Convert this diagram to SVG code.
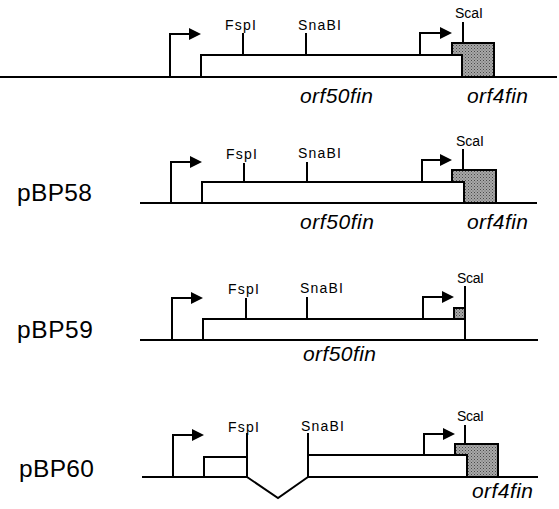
<svg xmlns="http://www.w3.org/2000/svg" width="559" height="509" viewBox="0 0 559 509">
  <style>
    .ln { stroke: #000; stroke-width: 2; fill: none; }
    .box { stroke: #000; stroke-width: 2; fill: #fff; }
    .gray { stroke: #000; stroke-width: 2; fill: url(#stipple); }
    .site { font-family: "Liberation Sans", Arial, sans-serif; font-size: 14px; fill: #000; }
    .gene { font-family: "Liberation Sans", Arial, sans-serif; font-size: 21px; font-style: italic; fill: #000; }
    .name { font-family: "Liberation Sans", Arial, sans-serif; font-size: 24.5px; fill: #000; }
  </style>
  <defs>
    <pattern id="stipple" width="3" height="3" patternUnits="userSpaceOnUse">
      <rect width="3" height="3" fill="#a8a8a8"/>
      <rect x="0" y="0" width="1" height="1" fill="#4a4a4a"/>
      <rect x="1.5" y="1.5" width="1" height="1" fill="#606060"/>
    </pattern>
    <polygon id="tip" points="-12,-6 0,0 -12,6" fill="#000"/>
  </defs>

  <!-- wild-type region -->
  <g id="wildtype">
    <line class="ln" x1="0" y1="77" x2="557" y2="77"/>
    <path class="ln" d="M170,77 V34 H190"/>
    <use href="#tip" x="201" y="34"/>
    <rect class="gray" x="452" y="43" width="42" height="34"/>
    <rect class="box" x="201" y="55" width="261" height="22"/>
    <path class="ln" d="M420,55 V33 H442"/>
    <use href="#tip" x="452" y="33"/>
    <line class="ln" x1="243" y1="55" x2="243" y2="33"/>
    <line class="ln" x1="306" y1="55" x2="306" y2="33"/>
    <line class="ln" x1="463" y1="43" x2="463" y2="22"/>
    <text class="site" x="225" y="30" textLength="31" lengthAdjust="spacing">FspI</text>
    <text class="site" x="298" y="30" textLength="43" lengthAdjust="spacing">SnaBI</text>
    <text class="site" x="455" y="18" textLength="28" lengthAdjust="spacing">ScaI</text>
    <text class="gene" x="300" y="103" textLength="73" lengthAdjust="spacing">orf50fin</text>
    <text class="gene" x="467" y="103" textLength="61" lengthAdjust="spacing">orf4fin</text>
  </g>

  <!-- pBP58 -->
  <g id="pBP58">
    <text class="name" x="17" y="201" textLength="75" lengthAdjust="spacing">pBP58</text>
    <line class="ln" x1="140" y1="203" x2="537" y2="203"/>
    <path class="ln" d="M171,203 V162 H192"/>
    <use href="#tip" x="202" y="162"/>
    <rect class="gray" x="452" y="170" width="44" height="33"/>
    <rect class="box" x="202" y="182" width="262" height="21"/>
    <path class="ln" d="M422,182 V160 H442"/>
    <use href="#tip" x="452" y="160"/>
    <line class="ln" x1="244" y1="182" x2="244" y2="163"/>
    <line class="ln" x1="307" y1="182" x2="307" y2="162"/>
    <line class="ln" x1="463" y1="170" x2="463" y2="149"/>
    <text class="site" x="226" y="159" textLength="31" lengthAdjust="spacing">FspI</text>
    <text class="site" x="298" y="158" textLength="43" lengthAdjust="spacing">SnaBI</text>
    <text class="site" x="456" y="146" textLength="28" lengthAdjust="spacing">ScaI</text>
    <text class="gene" x="300" y="229" textLength="74" lengthAdjust="spacing">orf50fin</text>
    <text class="gene" x="467" y="229" textLength="61" lengthAdjust="spacing">orf4fin</text>
  </g>

  <!-- pBP59 -->
  <g id="pBP59">
    <text class="name" x="17" y="338" textLength="76" lengthAdjust="spacing">pBP59</text>
    <line class="ln" x1="140" y1="340" x2="538" y2="340"/>
    <path class="ln" d="M172,340 V298 H193"/>
    <use href="#tip" x="203" y="298"/>
    <rect class="gray" x="454" y="308" width="11" height="11"/>
    <rect class="box" x="203" y="319" width="262" height="21"/>
    <path class="ln" d="M423,319 V297 H444"/>
    <use href="#tip" x="454" y="297"/>
    <line class="ln" x1="246" y1="319" x2="246" y2="298"/>
    <line class="ln" x1="307" y1="319" x2="307" y2="297"/>
    <line class="ln" x1="465" y1="340" x2="465" y2="286"/>
    <text class="site" x="228" y="294" textLength="31" lengthAdjust="spacing">FspI</text>
    <text class="site" x="300" y="293" textLength="43" lengthAdjust="spacing">SnaBI</text>
    <text class="site" x="457" y="283" textLength="27" lengthAdjust="spacing">ScaI</text>
    <text class="gene" x="303" y="361" textLength="73" lengthAdjust="spacing">orf50fin</text>
  </g>

  <!-- pBP60 -->
  <g id="pBP60">
    <text class="name" x="19" y="477" textLength="75" lengthAdjust="spacing">pBP60</text>
    <line class="ln" x1="142" y1="477" x2="247" y2="477"/>
    <line class="ln" x1="308" y1="477" x2="538" y2="477"/>
    <path class="ln" d="M173,477 V435 H193"/>
    <use href="#tip" x="204" y="435"/>
    <rect class="box" x="204" y="457" width="43" height="20"/>
    <line class="ln" x1="247" y1="457" x2="247" y2="433"/>
    <rect class="gray" x="455" y="444" width="43" height="33"/>
    <rect class="box" x="308" y="455" width="159" height="22"/>
    <line class="ln" x1="308" y1="455" x2="308" y2="433"/>
    <path class="ln" d="M424,455 V434 H445"/>
    <use href="#tip" x="455" y="434"/>
    <line class="ln" x1="465" y1="444" x2="465" y2="425"/>
    <text class="site" x="228" y="432" textLength="31" lengthAdjust="spacing">FspI</text>
    <text class="site" x="301" y="431" textLength="43" lengthAdjust="spacing">SnaBI</text>
    <text class="site" x="457" y="421" textLength="27" lengthAdjust="spacing">ScaI</text>
    <text class="gene" x="472" y="498" textLength="61" lengthAdjust="spacing">orf4fin</text>
  </g>

  <!-- deletion junction between FspI and SnaBI -->
  <g id="connectors">
    <path class="ln" d="M247,477 L278,498 L308,477"/>
  </g>
</svg>
